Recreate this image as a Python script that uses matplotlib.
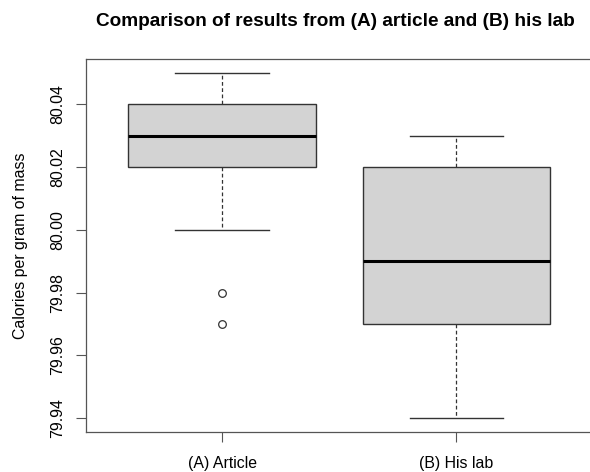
import matplotlib
matplotlib.use("Agg")
import matplotlib.pyplot as plt

plt.rcParams["font.family"] = ["Liberation Sans", "DejaVu Sans"]

# five-number summaries
groups = ["(A) Article", "(B) His lab"]
whisker_low = [80.00, 79.94]
q1 = [80.02, 79.97]
median = [80.03, 79.99]
q3 = [80.04, 80.02]
whisker_high = [80.05, 80.03]
outliers = [[79.98, 79.97], []]

y_ticks = [79.94, 79.96, 79.98, 80.00, 80.02, 80.04]

stats = []
for i, name in enumerate(groups):
    stats.append({
        "label": name,
        "whislo": whisker_low[i],
        "q1": q1[i],
        "med": median[i],
        "q3": q3[i],
        "whishi": whisker_high[i],
        "fliers": outliers[i],
    })

fig = plt.figure(figsize=(5.9, 4.72), dpi=100)
ax = fig.add_axes([86 / 590, 40 / 472, 506.5 / 590, 373 / 472])

ax.bxp(
    stats,
    positions=[1, 2],
    widths=0.8,
    patch_artist=True,
    boxprops=dict(facecolor="#d3d3d3", edgecolor="#333333", linewidth=1.0),
    medianprops=dict(color="black", linewidth=2.2, solid_capstyle="butt"),
    whiskerprops=dict(color="#333333", linewidth=0.9, linestyle=(0, (3, 2))),
    capprops=dict(color="#333333", linewidth=1.0),
    capwidths=0.4,
    flierprops=dict(marker="o", markerfacecolor="none", markeredgecolor="#333333",
                    markersize=5.5, markeredgewidth=0.9),
)

ax.set_xlim(0.42, 2.58)
ax.set_ylim(79.9356, 80.0544)
ax.set_yticks(y_ticks)
ax.set_yticklabels(["%.2f" % v for v in y_ticks], rotation=90, va="center")
ax.set_xticks([1, 2])
ax.set_xticklabels(groups)

for s in ax.spines.values():
    s.set_color("#555555")
    s.set_linewidth(0.9)
ax.tick_params(axis="both", labelsize=11.4, length=7, width=0.8, color="#555555")
ax.tick_params(axis="y", pad=8)
ax.tick_params(axis="x", pad=10)

ax.set_ylabel("Calories per gram of mass", fontsize=11.4, labelpad=16)
fig.text(335 / 590, 1 - 21 / 472, "Comparison of results from (A) article and (B) his lab",
         ha="center", va="center", fontsize=13.7, fontweight="bold")

fig.savefig("out.png", dpi=100)
